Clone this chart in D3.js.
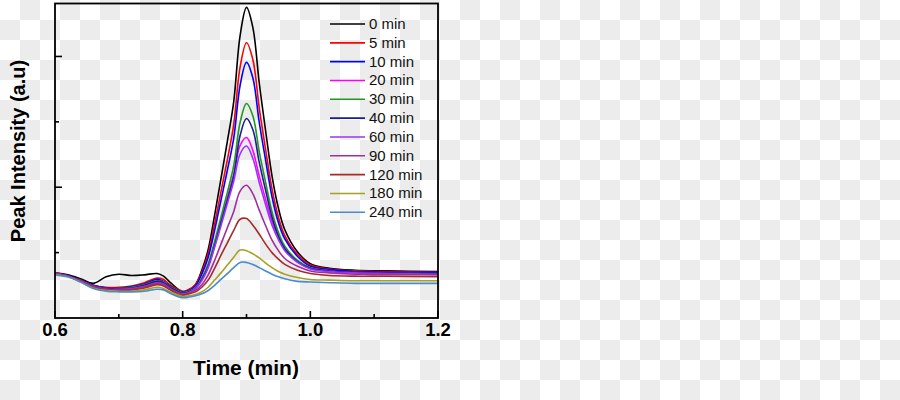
<!DOCTYPE html>
<html>
<head>
<meta charset="utf-8">
<script src="https://cdn.jsdelivr.net/npm/d3@7"></script>
<style>
  body { margin: 0; background: #fff; }
  svg { display: block; font-family: "Liberation Sans", Arial, sans-serif; }
</style>
</head>
<body>
<svg id="chart" width="900" height="400"></svg>
<script>
// retention time (min)
const times = [0.60, 0.62, 0.64, 0.66, 0.68, 0.70, 0.72, 0.74, 0.76, 0.77, 0.78, 0.80,
  0.81, 0.82, 0.83, 0.84, 0.85, 0.86, 0.87, 0.88, 0.89, 0.90, 0.91, 0.92, 0.93, 0.94, 0.95, 0.96,
  0.98, 1.00, 1.03, 1.07, 1.12, 1.20];

// intensity (a.u.) for each irradiation time
const min0   = [6.9, 6.6, 6.0, 5.3, 6.3, 6.7, 6.5, 6.6, 6.8, 6.4, 5.5, 4.0, 4.3, 5.1, 7.3, 10.5, 15.7, 21.3, 27.0, 33.1, 43.2, 47.5, 44.4, 35.9, 28.6, 21.7, 16.8, 13.5, 10.1, 8.3, 7.6, 7.3, 7.2, 7.1];
const min5   = [6.9, 6.5, 5.8, 5.0, 4.7, 4.7, 4.9, 5.4, 6.1, 5.9, 5.1, 4.1, 4.4, 5.1, 7.0, 9.9, 14.4, 19.3, 24.2, 29.6, 38.4, 42.1, 39.5, 32.1, 25.7, 19.7, 15.4, 12.6, 9.7, 8.1, 7.5, 7.2, 7.1, 7.0];
const min10  = [6.8, 6.5, 5.8, 5.0, 4.6, 4.5, 4.8, 5.2, 5.9, 5.6, 4.9, 4.0, 4.2, 4.9, 6.7, 9.3, 13.4, 18.0, 22.6, 27.5, 35.6, 39.1, 36.7, 29.9, 24.1, 18.5, 14.6, 12.1, 9.4, 7.9, 7.4, 7.1, 7.0, 7.0];
const min20  = [6.8, 6.4, 5.7, 4.9, 4.5, 4.4, 4.6, 5.0, 5.5, 5.3, 4.7, 3.8, 4.0, 4.6, 5.9, 8.0, 11.3, 14.8, 18.4, 22.0, 26.4, 27.6, 25.6, 21.7, 18.1, 14.8, 12.4, 10.6, 8.6, 7.7, 7.2, 6.9, 6.9, 6.8];
const min30  = [6.8, 6.4, 5.7, 4.9, 4.5, 4.5, 4.7, 5.1, 5.7, 5.5, 4.8, 3.9, 4.1, 4.6, 6.1, 8.3, 11.7, 15.4, 19.2, 23.3, 29.9, 32.8, 30.9, 25.4, 20.7, 16.2, 13.1, 11.0, 8.8, 7.7, 7.2, 7.0, 6.9, 6.9];
const min40  = [6.8, 6.4, 5.7, 4.9, 4.5, 4.5, 4.6, 5.0, 5.6, 5.4, 4.7, 3.8, 4.0, 4.5, 5.9, 7.9, 11.0, 14.5, 18.0, 21.7, 27.9, 30.5, 28.8, 23.8, 19.5, 15.4, 12.5, 10.6, 8.6, 7.6, 7.2, 7.0, 6.9, 6.9];
const min60  = [6.8, 6.4, 5.7, 4.8, 4.4, 4.4, 4.5, 4.8, 5.4, 5.2, 4.5, 3.7, 3.9, 4.5, 5.7, 7.7, 10.8, 14.1, 17.5, 20.9, 25.1, 26.3, 24.4, 20.7, 17.3, 14.2, 12.0, 10.3, 8.5, 7.5, 7.1, 6.9, 6.8, 6.7];
const min90  = [6.8, 6.4, 5.7, 4.8, 4.4, 4.3, 4.4, 4.8, 5.3, 5.1, 4.5, 3.6, 3.8, 4.2, 5.1, 6.6, 8.8, 11.3, 13.8, 16.3, 19.4, 20.3, 19.0, 16.5, 14.1, 11.9, 10.3, 9.1, 7.9, 7.2, 6.9, 6.7, 6.7, 6.6];
const min120 = [6.7, 6.4, 5.6, 4.7, 4.3, 4.2, 4.3, 4.6, 5.1, 4.9, 4.3, 3.5, 3.7, 4.0, 4.7, 5.8, 7.6, 9.6, 11.5, 13.4, 15.1, 15.2, 14.2, 12.8, 11.3, 10.0, 9.0, 8.2, 7.3, 6.8, 6.5, 6.4, 6.4, 6.3];
const min180 = [6.7, 6.3, 5.5, 4.6, 4.2, 4.1, 4.1, 4.3, 4.7, 4.5, 4.0, 3.3, 3.4, 3.6, 4.0, 4.7, 5.8, 6.9, 8.1, 9.3, 10.4, 10.3, 9.8, 9.2, 8.4, 7.7, 7.1, 6.7, 6.2, 5.9, 5.8, 5.7, 5.7, 5.7];
const min240 = [6.6, 6.3, 5.5, 4.5, 4.1, 4.0, 4.0, 4.1, 4.4, 4.3, 3.8, 3.1, 3.2, 3.4, 3.7, 4.2, 5.0, 5.9, 6.8, 7.7, 8.5, 8.5, 8.2, 7.7, 7.2, 6.7, 6.3, 6.0, 5.6, 5.5, 5.4, 5.3, 5.3, 5.3];

const seriesLabels = ["0 min", "5 min", "10 min", "20 min", "30 min", "40 min", "60 min", "90 min", "120 min", "180 min", "240 min"];
const seriesValues = [min0, min5, min10, min20, min30, min40, min60, min90, min120, min180, min240];
const seriesColors = ["#000000", "#ff0000", "#0000ff", "#ff00ff", "#1f9a1f", "#1c1c96", "#9933ff", "#a02ea0", "#a52a2a", "#a8a020", "#4a8bd0"];

const xTicks = [0.6, 0.7, 0.8, 0.9, 1.0, 1.1, 1.2];
const xLabelTicks = [0.6, 0.8, 1.0, 1.2];
const yTicks = [10, 20, 30, 40];

const svg = d3.select("#chart");

// transparent-png checkerboard behind everything
const defs = svg.append("defs");
const pat = defs.append("pattern")
  .attr("id", "checker").attr("width", 40).attr("height", 40)
  .attr("patternUnits", "userSpaceOnUse");
pat.append("rect").attr("width", 40).attr("height", 40).attr("fill", "#ffffff");
pat.append("rect").attr("x", 20).attr("y", 0).attr("width", 20).attr("height", 20).attr("fill", "#ececec");
pat.append("rect").attr("x", 0).attr("y", 20).attr("width", 20).attr("height", 20).attr("fill", "#ececec");
svg.append("rect").attr("width", 900).attr("height", 400).attr("fill", "url(#checker)");

const plotLeft = 55, plotRight = 438, plotTop = 3.5, plotBottom = 318;

const x = d3.scaleLinear().domain([0.6, 1.2]).range([plotLeft, plotRight]);
const y = d3.scaleLinear().domain([0, 48.1]).range([plotBottom, plotTop]);

// curves
const line = d3.line()
  .x(d => x(d[0]))
  .y(d => y(d[1]))
  .curve(d3.curveCatmullRom.alpha(0.5));

const g_lines = svg.append("g");
g_lines.selectAll("path")
  .data(seriesValues)
  .join("path")
  .attr("d", vals => line(times.map((t, i) => [t, vals[i]])))
  .attr("fill", "none")
  .attr("stroke", (d, i) => seriesColors[i])
  .attr("stroke-width", 1.6);

// axes with inward ticks
const g_axis = svg.append("g");
g_axis.selectAll(".xtick")
  .data(xTicks)
  .join("line")
  .attr("x1", d => x(d)).attr("x2", d => x(d))
  .attr("y1", plotBottom)
  .attr("y2", d => plotBottom - (xLabelTicks.includes(d) ? 7 : 4))
  .attr("stroke", "#000").attr("stroke-width", 1.6);

g_axis.selectAll(".ytick")
  .data(yTicks)
  .join("line")
  .attr("y1", d => y(d)).attr("y2", d => y(d))
  .attr("x1", plotLeft)
  .attr("x2", d => plotLeft + (d % 20 === 0 ? 7 : 4))
  .attr("stroke", "#000").attr("stroke-width", 1.6);

g_axis.append("rect")
  .attr("x", plotLeft).attr("y", plotTop)
  .attr("width", plotRight - plotLeft).attr("height", plotBottom - plotTop)
  .attr("fill", "none").attr("stroke", "#000").attr("stroke-width", 1.8);

g_axis.selectAll(".xlabel")
  .data(xLabelTicks)
  .join("text")
  .attr("x", d => x(d))
  .attr("y", 336)
  .attr("text-anchor", "middle")
  .attr("font-size", 18.5).attr("font-weight", "bold")
  .text(d => d.toFixed(1));

svg.append("text")
  .attr("x", 246).attr("y", 375)
  .attr("text-anchor", "middle")
  .attr("font-size", 21).attr("font-weight", "bold")
  .text("Time (min)");

svg.append("text")
  .attr("transform", "translate(25,151) rotate(-90)")
  .attr("text-anchor", "middle")
  .attr("font-size", 20).attr("font-weight", "bold")
  .text("Peak Intensity (a.u)");

// legend
const g_legend = svg.append("g");
const rows = g_legend.selectAll("g")
  .data(seriesLabels)
  .join("g")
  .attr("transform", (d, i) => `translate(0,${24 + i * 18.83})`);
rows.append("line")
  .attr("x1", 330).attr("x2", 365)
  .attr("stroke", (d, i) => seriesColors[i])
  .attr("stroke-width", 1.6);
rows.append("text")
  .attr("x", 369).attr("y", 5)
  .attr("font-size", 15)
  .attr("fill", "#111")
  .text(d => d);
</script>
</body>
</html>
